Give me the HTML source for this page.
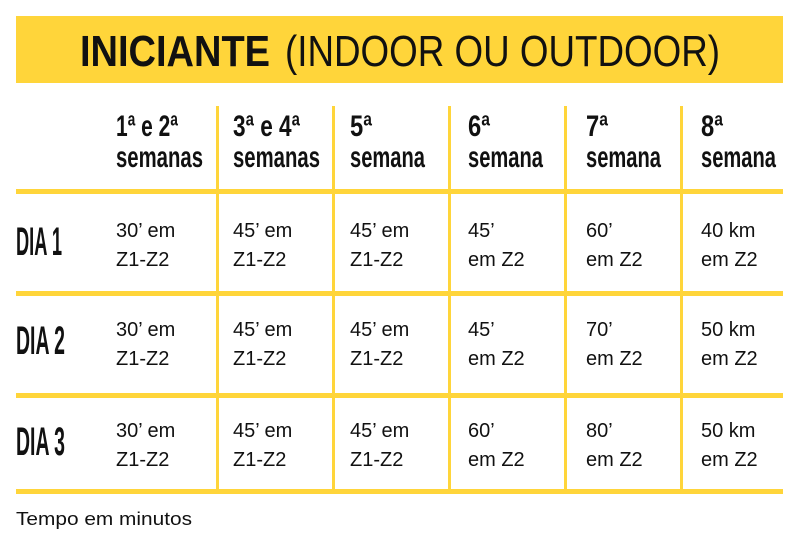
<!DOCTYPE html>
<html><head><meta charset="utf-8"><style>
html,body{margin:0;padding:0;background:#fff;width:799px;height:550px;overflow:hidden}
svg{display:block}
text{font-family:"Liberation Sans",sans-serif;fill:#111}
.h{font-weight:bold;font-size:30px}
.b{font-size:20px}
.d{font-weight:bold;font-size:40px}
</style></head><body>
<svg width="799" height="550" viewBox="0 0 799 550">
<rect x="16" y="16" width="767" height="67" fill="#FFD53A"/>
<text x="80" y="66" font-size="44" font-weight="bold" textLength="190" lengthAdjust="spacingAndGlyphs">INICIANTE</text>
<text x="285" y="66" font-size="44" textLength="435" lengthAdjust="spacingAndGlyphs">(INDOOR OU OUTDOOR)</text>
<g fill="#FFD53A">
<rect x="16" y="189" width="767" height="5"/>
<rect x="16" y="291" width="767" height="5"/>
<rect x="16" y="393" width="767" height="5"/>
<rect x="16" y="489" width="767" height="5"/>
<rect x="216" y="106" width="3" height="383"/>
<rect x="332" y="106" width="3" height="383"/>
<rect x="448" y="106" width="3" height="383"/>
<rect x="564" y="106" width="3" height="383"/>
<rect x="680" y="106" width="3" height="383"/>
</g>
<g class="h">
<text class="h" x="116" y="136" textLength="62" lengthAdjust="spacingAndGlyphs">1ª e 2ª</text>
<text class="h" x="116" y="167" textLength="87" lengthAdjust="spacingAndGlyphs">semanas</text>
<text class="h" x="233" y="136" textLength="67" lengthAdjust="spacingAndGlyphs">3ª e 4ª</text>
<text class="h" x="233" y="167" textLength="87" lengthAdjust="spacingAndGlyphs">semanas</text>
<text class="h" x="350" y="136" textLength="22" lengthAdjust="spacingAndGlyphs">5ª</text>
<text class="h" x="350" y="167" textLength="75" lengthAdjust="spacingAndGlyphs">semana</text>
<text class="h" x="468" y="136" textLength="22" lengthAdjust="spacingAndGlyphs">6ª</text>
<text class="h" x="468" y="167" textLength="75" lengthAdjust="spacingAndGlyphs">semana</text>
<text class="h" x="586" y="136" textLength="22" lengthAdjust="spacingAndGlyphs">7ª</text>
<text class="h" x="586" y="167" textLength="75" lengthAdjust="spacingAndGlyphs">semana</text>
<text class="h" x="701" y="136" textLength="22" lengthAdjust="spacingAndGlyphs">8ª</text>
<text class="h" x="701" y="167" textLength="75" lengthAdjust="spacingAndGlyphs">semana</text>
</g>
<text class="d" x="16" y="255" textLength="46" lengthAdjust="spacingAndGlyphs">DIA 1</text>
<text class="d" x="16" y="354" textLength="49" lengthAdjust="spacingAndGlyphs">DIA 2</text>
<text class="d" x="16" y="455" textLength="49" lengthAdjust="spacingAndGlyphs">DIA 3</text>

<text class="b" x="116" y="237">30’ em</text><text class="b" x="116" y="266">Z1-Z2</text>
<text class="b" x="233" y="237">45’ em</text><text class="b" x="233" y="266">Z1-Z2</text>
<text class="b" x="350" y="237">45’ em</text><text class="b" x="350" y="266">Z1-Z2</text>
<text class="b" x="468" y="237">45’</text><text class="b" x="468" y="266">em Z2</text>
<text class="b" x="586" y="237">60’</text><text class="b" x="586" y="266">em Z2</text>
<text class="b" x="701" y="237">40 km</text><text class="b" x="701" y="266">em Z2</text>

<text class="b" x="116" y="336">30’ em</text><text class="b" x="116" y="365">Z1-Z2</text>
<text class="b" x="233" y="336">45’ em</text><text class="b" x="233" y="365">Z1-Z2</text>
<text class="b" x="350" y="336">45’ em</text><text class="b" x="350" y="365">Z1-Z2</text>
<text class="b" x="468" y="336">45’</text><text class="b" x="468" y="365">em Z2</text>
<text class="b" x="586" y="336">70’</text><text class="b" x="586" y="365">em Z2</text>
<text class="b" x="701" y="336">50 km</text><text class="b" x="701" y="365">em Z2</text>

<text class="b" x="116" y="437">30’ em</text><text class="b" x="116" y="466">Z1-Z2</text>
<text class="b" x="233" y="437">45’ em</text><text class="b" x="233" y="466">Z1-Z2</text>
<text class="b" x="350" y="437">45’ em</text><text class="b" x="350" y="466">Z1-Z2</text>
<text class="b" x="468" y="437">60’</text><text class="b" x="468" y="466">em Z2</text>
<text class="b" x="586" y="437">80’</text><text class="b" x="586" y="466">em Z2</text>
<text class="b" x="701" y="437">50 km</text><text class="b" x="701" y="466">em Z2</text>

<text x="16" y="525" font-size="18" textLength="176" lengthAdjust="spacingAndGlyphs">Tempo em minutos</text>
</svg>
</body></html>
